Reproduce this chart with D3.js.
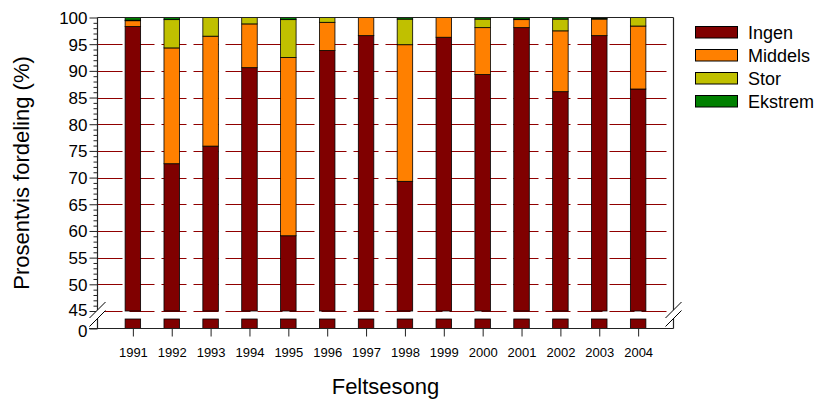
<!DOCTYPE html>
<html><head><meta charset="utf-8">
<script src="https://cdn.jsdelivr.net/npm/d3@7"></script>
<style>html,body{margin:0;padding:0;background:#fff}svg{display:block}text{font-family:Arial,"Liberation Sans",sans-serif;fill:#000}</style>
</head><body><svg id="c" width="816" height="401"></svg>
<script>
const years = ["1991","1992","1993","1994","1995","1996","1997","1998","1999","2000","2001","2002","2003","2004"];
const seriesNames = ["Ingen","Middels","Stor","Ekstrem"];
const ingen   = [98.3,72.6,75.9,90.6,59.1,93.8,96.6,69.3,96.3,89.3,98.1,86.1,96.6,86.6];
const middels = [1.1,21.7,20.6,8.2,33.4,5.3,3.4,25.6,3.7,8.8,1.5,11.4,3.1,11.8];
const stor    = [0.1,5.3,3.5,1.2,7.1,0.9,0,4.8,0,1.6,0.1,2.2,0.1,1.6];
const ekstrem = [0.5,0.4,0,0,0.4,0,0,0.3,0,0.3,0.3,0.3,0.2,0];
const colors  = ["#800000","#FF8000","#C0C000","#008000"];
const yMajorTicks = [45,50,55,60,65,70,75,80,85,90,95,100];
const yLowTick = [0];

const svg = d3.select("#c");
const L = 97.5, R = 673.5, T = 17.5, B = 328.5;
const x = d3.scalePoint().domain(years).range([L, R]).padding(0.91);
const y = d3.scaleLinear().domain([45,100]).range([311, T]);
const yLow = d3.scaleLinear().domain([0,1]).range([B, 319]);
const bw = 15.5;

const rows = years.map((yr,i)=>({year:yr, vals:[ingen[i],middels[i],stor[i],ekstrem[i]]}));
const stack = d3.stack().keys([0,1,2,3]).value((d,k)=>d.vals[k]);
const stacked = stack(rows);

// gridlines
const grid = svg.append("g");
grid.selectAll("line").data(yMajorTicks.filter(v=>v<100)).join("line")
  .attr("x1", L).attr("x2", R)
  .attr("y1", d=>Math.round(y(d))+0.5).attr("y2", d=>Math.round(y(d))+0.5)
  .attr("stroke","#900000").attr("stroke-width",1.1).attr("stroke-dasharray","25,7");

// bars upper
const gb = svg.append("g");
stacked.forEach((layer,k)=>{
  gb.append("g").selectAll("rect").data(layer.filter(d=>d[1]-d[0]>0)).join("rect")
    .attr("x", d=>x(d.data.year)-bw/2)
    .attr("width", bw)
    .attr("y", d=>y(Math.min(100,d[1])))
    .attr("height", d=>y(Math.max(45,d[0]))-y(Math.min(100,d[1])))
    .attr("fill", colors[k]).attr("stroke","#000").attr("stroke-width",0.8);
});
// bars lower segment
gb.append("g").selectAll("rect").data(rows).join("rect")
  .attr("x", d=>x(d.year)-bw/2).attr("width", bw)
  .attr("y", yLow(1)).attr("height", yLow(0)-yLow(1))
  .attr("fill", colors[0]).attr("stroke","#000").attr("stroke-width",0.8);

// frame
const frame = svg.append("g").attr("stroke","#222").attr("stroke-width",1.2).attr("fill","none");
frame.append("line").attr("x1",L).attr("x2",R).attr("y1",T).attr("y2",T);
frame.append("line").attr("x1",89).attr("x2",R).attr("y1",B).attr("y2",B);
frame.append("line").attr("x1",L).attr("x2",L).attr("y1",T).attr("y2",B);
frame.append("line").attr("x1",R).attr("x2",R).attr("y1",T).attr("y2",B);

// y axis upper
const minor = d3.range(46,100).filter(v=>v%5!==0);
const ayMinor = svg.append("g").attr("transform",`translate(${L},0)`)
  .call(d3.axisLeft(y).tickValues(minor).tickSize(4).tickFormat(""));
ayMinor.select(".domain").remove();
ayMinor.selectAll("line").attr("stroke","#222");
const ay = svg.append("g").attr("transform",`translate(${L},0)`)
  .call(d3.axisLeft(y).tickValues(yMajorTicks).tickSize(8).tickPadding(2).tickFormat(d3.format("d")));
ay.select(".domain").remove();
ay.selectAll("line").attr("stroke","#222");
ay.selectAll("text").style("font-size","17px").attr("dy", d=> d===45 ? "0.28em" : "0.35em");
const ayLow = svg.append("g").attr("transform",`translate(${L},0)`)
  .call(d3.axisLeft(yLow).tickValues(yLowTick).tickSize(8).tickPadding(2).tickFormat(d3.format("d")));
ayLow.select(".domain").remove();
ayLow.selectAll("line").attr("stroke","#222");
ayLow.selectAll("text").style("font-size","17px").attr("dy","0.45em");

// x axis
const ax = svg.append("g").attr("transform",`translate(0,${B})`)
  .call(d3.axisBottom(x).tickSize(8).tickSizeOuter(0).tickPadding(11));
ax.select(".domain").remove();
ax.selectAll("line").attr("stroke","#222");
ax.selectAll("text").style("font-size","13px");

// breaks
function brk(cx){
  const g = svg.append("g");
  g.append("polygon").attr("points",`${cx-8},318 ${cx+8},302 ${cx+8},310.5 ${cx-8},326.5`).attr("fill","#fff");
  g.append("line").attr("x1",cx-8).attr("y1",318).attr("x2",cx+8).attr("y2",302).attr("stroke","#000").attr("stroke-width",1);
  g.append("line").attr("x1",cx-8).attr("y1",326.5).attr("x2",cx+8).attr("y2",310.5).attr("stroke","#000").attr("stroke-width",1);
}
brk(L); brk(R);

// titles
svg.append("text").attr("x",(L+R)/2).attr("y",394).attr("text-anchor","middle").style("font-size","22px").text("Feltsesong");
svg.append("text").attr("transform",`translate(29,${(T+B)/2}) rotate(-90)`).attr("text-anchor","middle").style("font-size","22px").text("Prosentvis fordeling (%)");

// legend
const lg = svg.append("g");
seriesNames.forEach((n,i)=>{
  const yy = 26 + i*23;
  lg.append("rect").attr("x",695.5).attr("y",yy+0.5).attr("width",42).attr("height",11.5).attr("fill",colors[i]).attr("stroke","#000").attr("stroke-width",1);
  lg.append("text").attr("x",748).attr("y",yy+12.5).style("font-size","18px").text(n);
});
</script></body></html>
